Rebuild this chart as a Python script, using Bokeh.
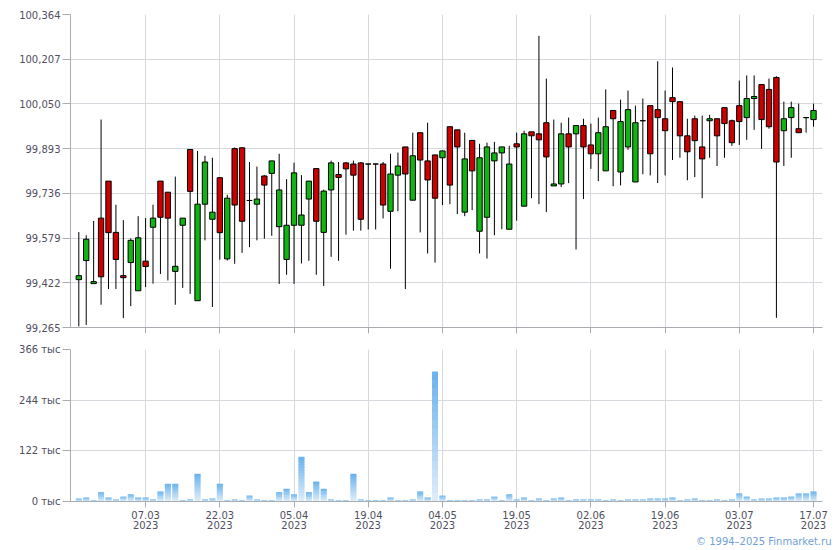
from bokeh.plotting import figure
from bokeh.layouts import column
from bokeh.models import Range1d, FixedTicker, Title, ColumnDataSource
from bokeh.embed import file_html
from bokeh.resources import INLINE

# ---- data -------------------------------------------------------------
tick_idx = [9, 19, 29, 39, 49, 59, 69, 79, 89, 99]
tick_labels = ["07.03\n2023", "22.03\n2023", "05.04\n2023", "19.04\n2023", "04.05\n2023",
               "19.05\n2023", "02.06\n2023", "19.06\n2023", "03.07\n2023", "17.07\n2023"]

price_ticks = [99.265, 99.422, 99.579, 99.736, 99.893, 100.050, 100.207, 100.364]
price_labels = ["99,265", "99,422", "99,579", "99,736", "99,893", "100,050", "100,207", "100,364"]

vol_ticks = [0, 122, 244, 366]
vol_labels = ["0 тыс", "122 тыс", "244 тыс", "366 тыс"]

opens = [99.433, 99.500, 99.419, 99.649, 99.779, 99.599, 99.447, 99.493, 99.394, 99.498,
         99.617, 99.779, 99.740, 99.462, 99.624, 99.890, 99.359, 99.698, 99.645, 99.791,
         99.506, 99.893, 99.896, 99.711, 99.698, 99.797, 99.806, 99.619, 99.504, 99.624,
         99.624, 99.716, 99.823, 99.599, 99.748, 99.802, 99.843, 99.839, 99.843, 99.839,
         99.839, 99.839, 99.673, 99.800, 99.899, 99.712, 99.949, 99.850, 99.871, 99.861,
         99.970, 99.959, 99.670, 99.922, 99.603, 99.652, 99.850, 99.878, 99.610, 99.910,
         99.691, 99.952, 99.945, 99.984, 99.762, 99.769, 99.945, 99.945, 99.974, 99.906,
         99.875, 99.815, 100.027, 99.811, 99.899, 99.776, 99.991, 100.044, 100.030, 99.998,
         100.072, 100.058, 99.938, 99.998, 99.899, 99.991, 99.998, 100.037, 99.991, 100.044,
         100.002, 100.069, 100.118, 100.101, 100.143, 99.956, 100.002, 99.963, 100.002, 99.995]
highs = [99.600, 99.589, 99.639, 99.995, 99.779, 99.696, 99.642, 99.578, 99.656, 99.649,
         99.696, 99.779, 99.740, 99.795, 99.649, 99.890, 99.885, 99.868, 99.861, 99.792,
         99.731, 99.897, 99.897, 99.846, 99.830, 99.800, 99.850, 99.875, 99.786, 99.844,
         99.800, 99.779, 99.823, 99.749, 99.851, 99.846, 99.846, 99.851, 99.846, 99.839,
         99.840, 99.846, 99.875, 99.879, 99.899, 99.949, 99.949, 99.984, 99.871, 99.886,
         99.970, 99.959, 99.949, 99.922, 99.910, 99.914, 99.917, 99.899, 99.903, 99.949,
         99.956, 99.952, 100.289, 100.139, 99.995, 99.984, 100.002, 99.974, 99.998, 99.981,
         100.002, 100.101, 100.027, 100.065, 100.097, 100.044, 100.069, 100.044, 100.200, 100.097,
         100.178, 100.058, 99.998, 100.009, 100.009, 100.012, 99.998, 100.037, 99.995, 100.132,
         100.150, 100.150, 100.118, 100.139, 100.147, 100.058, 100.058, 100.051, 100.002, 100.051]
lows = [99.269, 99.274, 99.419, 99.345, 99.400, 99.400, 99.298, 99.340, 99.394, 99.407,
        99.419, 99.453, 99.430, 99.345, 99.404, 99.383, 99.359, 99.571, 99.337, 99.503,
        99.500, 99.489, 99.527, 99.547, 99.571, 99.577, 99.587, 99.418, 99.450, 99.418,
        99.490, 99.499, 99.450, 99.411, 99.513, 99.499, 99.591, 99.605, 99.605, 99.609,
        99.609, 99.648, 99.471, 99.673, 99.400, 99.712, 99.599, 99.525, 99.493, 99.695,
        99.698, 99.663, 99.656, 99.677, 99.525, 99.507, 99.589, 99.610, 99.610, 99.640,
        99.691, 99.719, 99.698, 99.670, 99.762, 99.758, 99.772, 99.539, 99.716, 99.822,
        99.779, 99.815, 99.761, 99.764, 99.889, 99.776, 99.803, 99.799, 99.772, 99.799,
        99.853, 99.861, 99.782, 99.793, 99.719, 99.861, 99.832, 99.861, 99.903, 99.906,
        99.924, 99.959, 99.892, 99.963, 99.299, 99.832, 99.861, 99.949, 99.949, 99.970]
closes = [99.447, 99.575, 99.426, 99.443, 99.598, 99.504, 99.440, 99.571, 99.580, 99.479,
          99.649, 99.652, 99.649, 99.480, 99.649, 99.743, 99.698, 99.846, 99.670, 99.598,
          99.719, 99.695, 99.638, 99.711, 99.716, 99.765, 99.850, 99.748, 99.624, 99.808,
          99.660, 99.779, 99.638, 99.744, 99.843, 99.792, 99.822, 99.800, 99.645, 99.839,
          99.839, 99.695, 99.804, 99.832, 99.804, 99.868, 99.853, 99.783, 99.719, 99.885,
          99.765, 99.899, 99.857, 99.815, 99.861, 99.899, 99.878, 99.899, 99.839, 99.899,
          99.945, 99.938, 99.924, 99.864, 99.769, 99.945, 99.899, 99.974, 99.899, 99.875,
          99.949, 99.970, 99.998, 99.988, 100.030, 99.984, 99.991, 99.875, 100.002, 99.956,
          100.058, 99.938, 99.882, 99.921, 99.857, 99.998, 99.938, 99.981, 99.914, 99.988,
          100.069, 100.076, 99.995, 99.970, 99.846, 99.998, 100.037, 99.949, 100.002, 100.027]
# volume, thousands
volumes = [7, 10, 2.4, 22, 10, 5, 12, 17, 10, 10,
           5, 24, 43, 43, 2.4, 5, 67, 5, 7, 43,
           2.4, 5, 2.4, 14, 5, 2.4, 2.4, 22, 31, 17,
           108, 22, 48, 31, 5, 2.4, 2.4, 67, 5, 2.4,
           2.4, 2.4, 10, 2.4, 2.4, 5, 24, 10, 313, 14,
           2.4, 2.4, 2.4, 2.4, 5, 5, 12, 2.4, 17, 5,
           10, 2.4, 7, 2.4, 7, 10, 2.4, 5, 5, 5,
           5, 2.4, 5, 2.4, 5, 5, 5, 7, 7, 7,
           10, 2.4, 5, 7, 2.4, 2.4, 5, 2.4, 5, 19,
           12, 5, 7, 7, 10, 10, 12, 19, 19, 24]

# ---- styling ------------------------------------------------------------
FONT = "DejaVu Sans"
GRID = "#d5d9dd"
AXIS = "#a9adb2"
LABEL = "#4f4f5f"
UP = "#11b511"
DOWN = "#cc0000"

n = len(opens)
xs = list(range(n))
X_RANGE = (-1.12, 100.21)

src = ColumnDataSource(dict(
    x=xs, high=highs, low=lows,
    top=[max(o, c) for o, c in zip(opens, closes)],
    bot=[min(o, c) for o, c in zip(opens, closes)],
    color=[UP if c >= o else DOWN for o, c in zip(opens, closes)],
))


def style(p):
    p.outline_line_color = None
    p.grid.grid_line_color = GRID
    p.grid.grid_line_width = 1
    for ax in (p.xaxis[0], p.yaxis[0]):
        ax.axis_line_color = AXIS
        ax.major_tick_line_color = AXIS
        ax.minor_tick_line_color = None
        ax.major_tick_in = 0
        ax.major_label_text_font = FONT
        ax.major_label_text_font_size = "10px"
        ax.major_label_text_color = LABEL
    p.yaxis.major_tick_out = 8
    p.yaxis.major_label_standoff = 2
    p.xaxis.major_tick_out = 6


p1 = figure(frame_width=752, frame_height=313,
            x_range=Range1d(*X_RANGE), y_range=Range1d(price_ticks[0], price_ticks[-1]),
            output_backend="svg", toolbar_location=None,
            min_border_left=70, min_border_right=10, min_border_top=14, min_border_bottom=12)
p1.segment(x0="x", y0="high", x1="x", y1="low", line_color="black", line_width=1, source=src)
p1.vbar(x="x", width=0.72, top="top", bottom="bot", fill_color="color",
        line_color="black", line_width=1, source=src)
style(p1)
p1.yaxis.ticker = FixedTicker(ticks=price_ticks)
p1.yaxis.major_label_overrides = dict(zip(price_ticks, price_labels))
p1.xaxis.ticker = FixedTicker(ticks=tick_idx)
p1.xaxis.major_label_overrides = {t: "" for t in tick_idx}
p1.xaxis.major_label_standoff = 0

# volume bars with a vertical gradient (light bottom -> darker top)
LIGHT = (226, 238, 250)
DARK = (104, 178, 238)
N = 16
vx, vtop, vbot, vcol = [], [], [], []
for i, v in enumerate(volumes):
    for k in range(N):
        t = (k + 0.5) / N
        r = int(LIGHT[0] + (DARK[0] - LIGHT[0]) * t)
        g = int(LIGHT[1] + (DARK[1] - LIGHT[1]) * t)
        b = int(LIGHT[2] + (DARK[2] - LIGHT[2]) * t)
        vx.append(i)
        vbot.append(v * k / N)
        vtop.append(v * (k + 1) / N + (v / N * 0.6 if k < N - 1 else 0))
        vcol.append("#%02x%02x%02x" % (r, g, b))
vsrc = ColumnDataSource(dict(x=vx, top=vtop, bot=vbot, color=vcol))

p2 = figure(frame_width=752, frame_height=152,
            x_range=p1.x_range, y_range=Range1d(vol_ticks[0], vol_ticks[-1]),
            output_backend="svg", toolbar_location=None,
            min_border_left=70, min_border_right=10, min_border_top=10, min_border_bottom=0)
p2.vbar(x="x", width=0.8, top="top", bottom="bot", fill_color="color",
        line_color=None, source=vsrc)
style(p2)
p2.yaxis.ticker = FixedTicker(ticks=vol_ticks)
p2.yaxis.major_label_overrides = dict(zip(vol_ticks, vol_labels))
p2.xaxis.ticker = FixedTicker(ticks=tick_idx)
p2.xaxis.major_label_overrides = dict(zip(tick_idx, tick_labels))
p2.xaxis.major_label_standoff = 2
p2.xaxis.major_label_text_line_height = 0.95
p2.add_layout(Title(text="© 1994–2025 Finmarket.ru", align="right",
                    text_font=FONT, text_font_size="10px", text_font_style="normal",
                    text_color="#6f9fd8", standoff=0, offset=-9), "below")

layout = column(p1, p2, spacing=0)
open("out.html", "w").write(file_html(layout, INLINE))
